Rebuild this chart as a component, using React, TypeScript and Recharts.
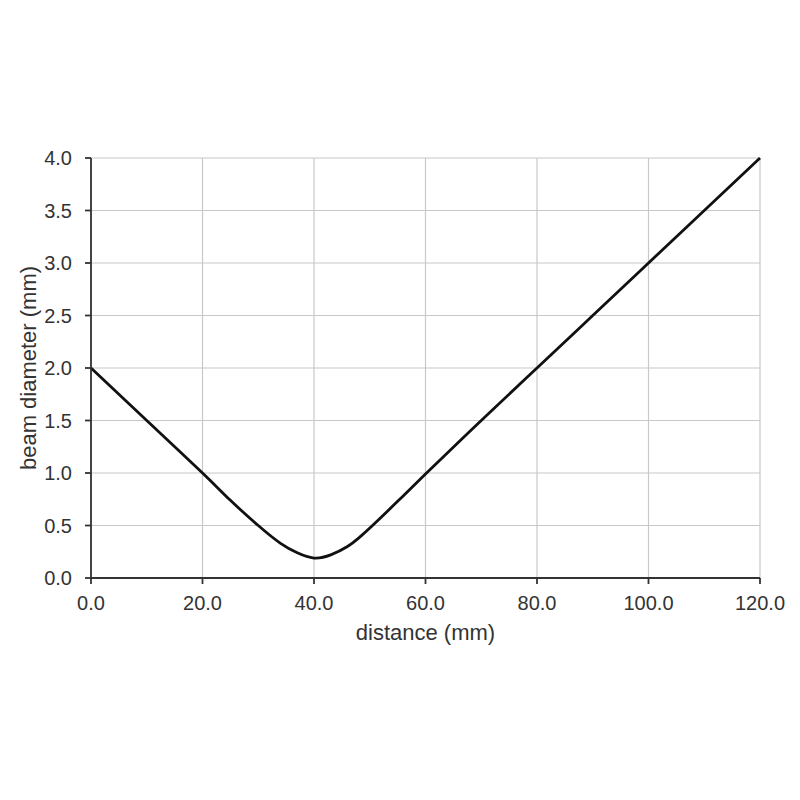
import { LineChart, Line, XAxis, YAxis, CartesianGrid, Label } from "recharts"

const distance = [0, 10, 20, 25, 30, 34, 37, 40, 43, 46, 48, 50.5, 55, 60, 70, 80, 90, 100, 110, 120]
const diameter = [2.0, 1.5, 1.0, 0.74, 0.5, 0.33, 0.24, 0.19, 0.22, 0.3, 0.38, 0.5, 0.73, 0.99, 1.5, 2.0, 2.5, 3.0, 3.5, 4.0]
const xTicks = [0, 20, 40, 60, 80, 100, 120]
const yTicks = [0, 0.5, 1, 1.5, 2, 2.5, 3, 3.5, 4]

const data = distance.map((d, i) => ({ distance: d, diameter: diameter[i] }))

const font = "'Liberation Sans', Arial, sans-serif"
const textColor = "#333"

export default function App() {
  return (
    <div style={{ position: "absolute", left: 0, top: 0, background: "#fff" }}>
      <LineChart width={800} height={800} data={data} margin={{ top: 158, right: 40, left: 0, bottom: 0 }}>
        <CartesianGrid stroke="#c8c8c8" strokeWidth={1.2} />
        <XAxis
          dataKey="distance"
          type="number"
          domain={[0, 120]}
          ticks={xTicks}
          tickFormatter={(v: number) => v.toFixed(1)}
          height={222}
          tickSize={6}
          tickMargin={12}
          stroke="#333"
          strokeWidth={1.8}
          tick={{ fill: textColor, fontSize: 20, fontFamily: font }}
          interval={0}
        >
          <Label
            value="distance (mm)"
            position="insideTop"
            offset={46}
            style={{ fill: textColor, fontSize: 22, fontFamily: font }}
          />
        </XAxis>
        <YAxis
          type="number"
          domain={[0, 4]}
          ticks={yTicks}
          tickFormatter={(v: number) => v.toFixed(1)}
          width={91}
          tickSize={6}
          tickMargin={13}
          stroke="#333"
          strokeWidth={1.8}
          tick={{ fill: textColor, fontSize: 20, fontFamily: font }}
          interval={0}
        >
          <Label
            content={() => (
              <text
                x={28}
                y={368}
                transform="rotate(-90 28 368)"
                textAnchor="middle"
                dominantBaseline="central"
                fill={textColor}
                fontSize={22}
                fontFamily={font}
              >
                beam diameter (mm)
              </text>
            )}
          />
        </YAxis>
        <Line
          type="natural"
          dataKey="diameter"
          stroke="#111"
          strokeWidth={2.8}
          dot={false}
          isAnimationActive={false}
        />
      </LineChart>
    </div>
  )
}
